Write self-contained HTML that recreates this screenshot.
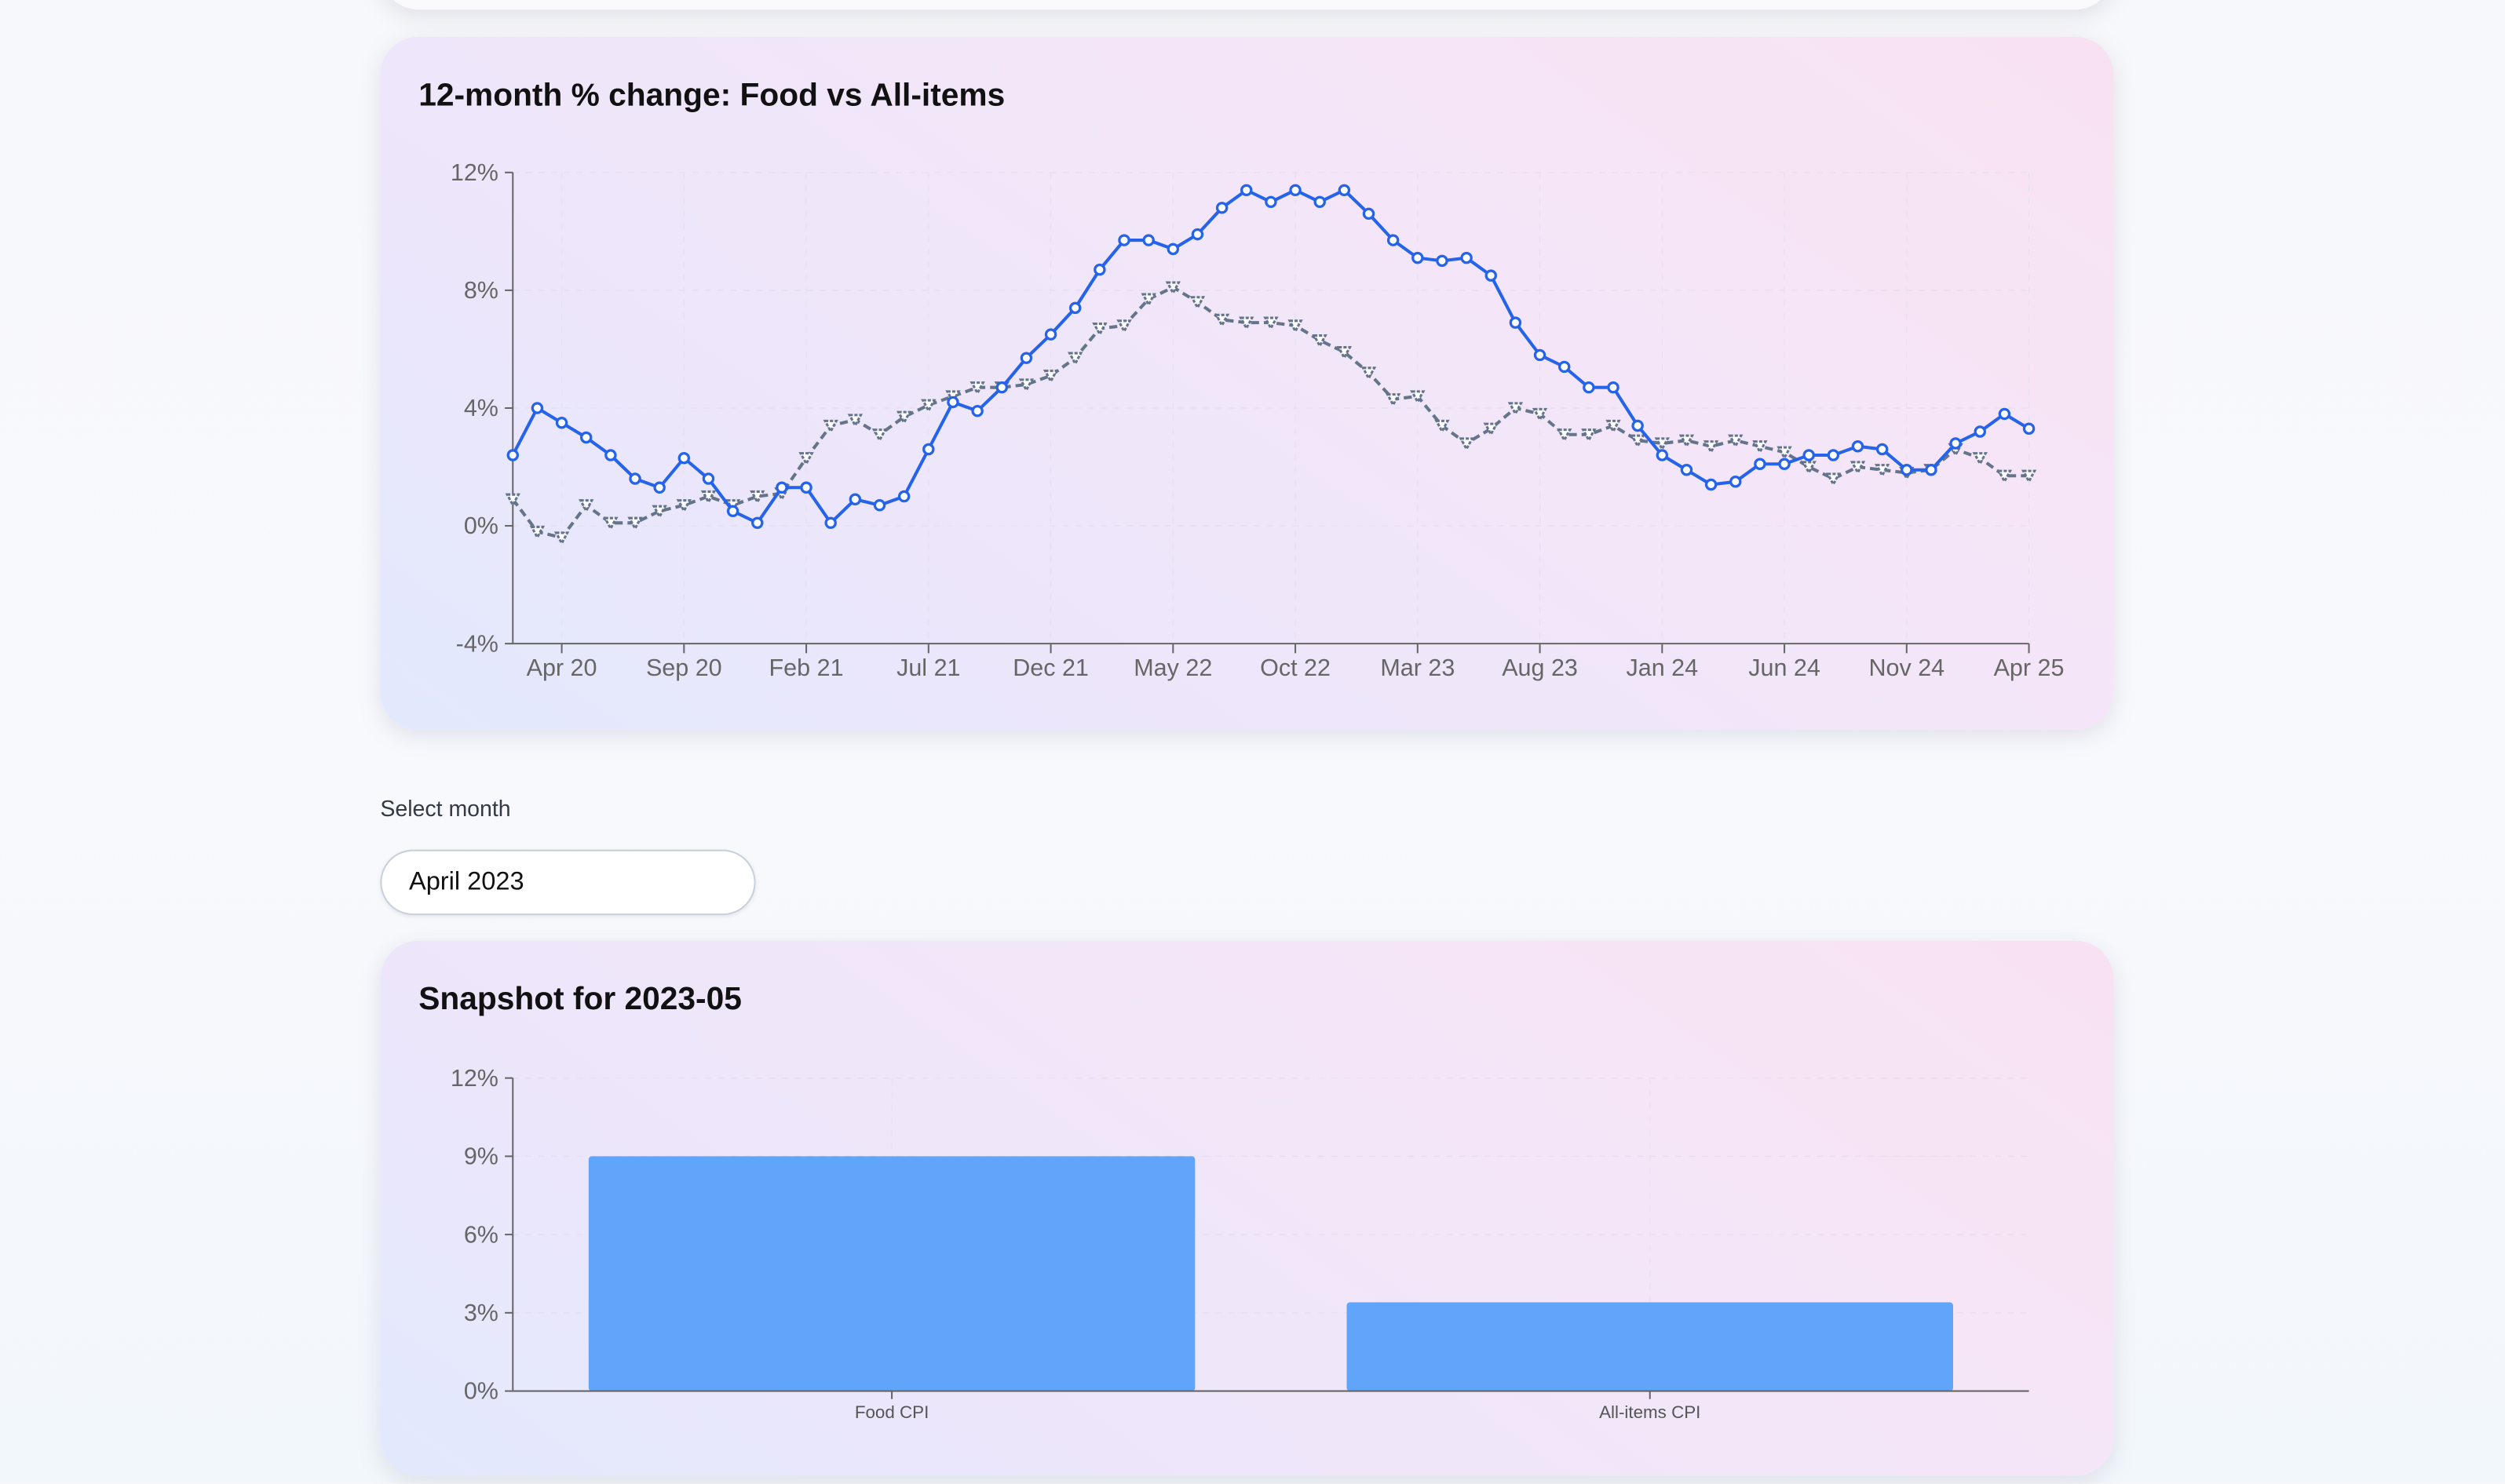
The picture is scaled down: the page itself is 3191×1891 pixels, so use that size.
<!DOCTYPE html>
<html><head><meta charset="utf-8">
<style>
html,body{margin:0;padding:0;width:3191px;height:1890px;overflow:hidden;}
body{background:linear-gradient(180deg,#f7f8fb 0%,#f8f9fd 50%,#f2f7fb 100%);font-family:"Liberation Sans",sans-serif;}
#wrap{position:absolute;left:0;top:0;width:1568px;height:929px;transform:scale(2.03508);transform-origin:0 0;}
.card{position:absolute;border-radius:24px;background:linear-gradient(35deg,#e2e9fd 0%,#ede6fb 30%,#f4e6f8 65%,#f8e2f1 100%);box-shadow:0 4px 14px rgba(120,120,150,0.18);}
.title{position:absolute;left:24px;font-weight:bold;font-size:20px;color:#111;}
#topcard{left:238px;top:-60px;width:1085px;height:66px;background:#fafafd;}
#label{position:absolute;left:238px;top:498px;font-size:14px;color:#333a45;}
#select{position:absolute;left:238px;top:532px;width:235px;height:41px;border:1px solid #c8d0dc;border-radius:21px;background:#fff;box-sizing:border-box;font-size:16px;color:#111;padding:11px 0 0 17px;box-shadow:0 1px 3px rgba(0,0,0,0.08);}
svg{position:absolute;left:0;top:0;}
</style></head>
<body>
<div id="wrap">
<div class="card" id="topcard"></div>
<div class="card" style="left:238px;top:23px;width:1085px;height:434px">
 <div class="title" style="top:26px">12-month % change: Food vs All-items</div>
</div>
<div id="label">Select month</div>
<div id="select">April 2023</div>
<div class="card" style="left:238px;top:589px;width:1085px;height:335px">
 <div class="title" style="top:26px">Snapshot for 2023-05</div>
</div>
<svg id="chart" width="1568" height="929"></svg>
</div>
<script>
const foodValues=[2.4,4.0,3.5,3.0,2.4,1.6,1.3,2.3,1.6,0.5,0.1,1.3,1.3,0.1,0.9,0.7,1.0,2.6,4.2,3.9,4.7,5.7,6.5,7.4,8.7,9.7,9.7,9.4,9.9,10.8,11.4,11.0,11.4,11.0,11.4,10.6,9.7,9.1,9.0,9.1,8.5,6.9,5.8,5.4,4.7,4.7,3.4,2.4,1.9,1.4,1.5,2.1,2.1,2.4,2.4,2.7,2.6,1.9,1.9,2.8,3.2,3.8,3.3];
const allItemsValues=[0.9,-0.2,-0.4,0.7,0.1,0.1,0.5,0.7,1.0,0.7,1.0,1.1,2.3,3.4,3.6,3.1,3.7,4.1,4.4,4.7,4.7,4.8,5.1,5.7,6.7,6.8,7.7,8.1,7.6,7.0,6.9,6.9,6.8,6.3,5.9,5.2,4.3,4.4,3.4,2.8,3.3,4.0,3.8,3.1,3.1,3.4,2.9,2.8,2.9,2.7,2.9,2.7,2.5,2.0,1.6,2.0,1.9,1.8,1.9,2.6,2.3,1.7,1.7];
const xTickLabels=["Apr 20","Sep 20","Feb 21","Jul 21","Dec 21","May 22","Oct 22","Mar 23","Aug 23","Jan 24","Jun 24","Nov 24","Apr 25"];
const xTickIndex=[2,7,12,17,22,27,32,37,42,47,52,57,62];
const yTicks=[-4,0,4,8,12];
const barCategories=["Food CPI","All-items CPI"];
const barValues=[9.0,3.4];
const barTicks=[0,3,6,9,12];

const NS="http://www.w3.org/2000/svg";
const svg=document.getElementById('chart');
function mk(tag,attrs,parent){const e=document.createElementNS(NS,tag);for(const k in attrs)e.setAttribute(k,attrs[k]);(parent||svg).appendChild(e);return e;}
const GRID='#e4dfee';
const X0=321,X1=1270,Y0=403,Y1=108;
const n=foodValues.length;
function xs(i){return X0+(X1-X0)*i/(n-1);}
function ys(v){return Y0-(v+4)/16*(Y0-Y1);}
const g=mk('g',{});


yTicks.forEach(t=>{
 const y=ys(t);
 const gl=mk('line',{x1:X0,x2:X1,y1:y,y2:y,stroke:GRID,'stroke-dasharray':'4 4','stroke-width':0.6},g);
 
 
 mk('line',{x1:X0-5,x2:X0,y1:y,y2:y,stroke:'#666'},g);
 const tx=mk('text',{x:X0-9,y:y+5,'text-anchor':'end','font-size':15,fill:'#666','font-family':'Liberation Sans, sans-serif'},g);
 tx.textContent=t+'%';
 
 
});
xTickIndex.forEach((idx,k)=>{
 const x=xs(idx);
 mk('line',{x1:x,x2:x,y1:Y1,y2:Y0,stroke:GRID,'stroke-dasharray':'4 4','stroke-width':0.5},g);
 mk('line',{x1:x,x2:x,y1:Y0,y2:Y0+6,stroke:'#666'},g);
 const tx=mk('text',{x:x,y:Y0+20,'text-anchor':'middle','font-size':15,fill:'#666','font-family':'Liberation Sans, sans-serif'},g);
 tx.textContent=xTickLabels[k];
 
 
});
mk('line',{x1:X0,x2:X0,y1:Y1,y2:Y0,stroke:'#666'},g);
mk('line',{x1:X0,x2:X1,y1:Y0,y2:Y0,stroke:'#666'},g);
const pa=mk('path',{d:allItemsValues.map((v,i)=>(i?'L':'M')+xs(i)+' '+ys(v)).join(''),fill:'none',stroke:'#64748b','stroke-width':2,'stroke-dasharray':'5 3'},g);


allItemsValues.forEach((v,i)=>{
 const x=xs(i),y=ys(v);
 const m=mk('path',{d:`M${x-3.5} ${y-3}L${x+3.5} ${y-3}L${x} ${y+3.5}Z`,fill:'#fff',stroke:'#64748b','stroke-width':1.5,'stroke-dasharray':'2 1'},g);
 
 
});
const pf=mk('path',{d:foodValues.map((v,i)=>(i?'L':'M')+xs(i)+' '+ys(v)).join(''),fill:'none',stroke:'#2563eb','stroke-width':2},g);


foodValues.forEach((v,i)=>{
 const c=mk('circle',{cx:xs(i),cy:ys(v),r:3,fill:'#fff',stroke:'#2563eb','stroke-width':1.6},g);
 
 
});
const BX0=321,BX1=1270,BY0=871,BY1=675;
function bys(v){return BY0-v/12*(BY0-BY1);}
const bg=mk('g',{});


barTicks.forEach(t=>{
 const y=bys(t);
 mk('line',{x1:BX0,x2:BX1,y1:y,y2:y,stroke:GRID,'stroke-dasharray':'4 4','stroke-width':0.6},bg);
 mk('line',{x1:BX0-5,x2:BX0,y1:y,y2:y,stroke:'#666'},bg);
 const tx=mk('text',{x:BX0-9,y:y+5,'text-anchor':'end','font-size':15,fill:'#666','font-family':'Liberation Sans, sans-serif'},bg);
 tx.textContent=t+'%';
 
 
});
const band=(BX1-BX0)/barCategories.length;
barCategories.forEach((c,i)=>{
 const cx=BX0+band*(i+0.5);
 const w=band*0.8;
 mk('line',{x1:cx,x2:cx,y1:BY1,y2:BY0,stroke:GRID,'stroke-dasharray':'4 4','stroke-width':0.5},bg);
 const r=mk('rect',{x:cx-w/2,y:bys(barValues[i]),width:w,height:BY0-bys(barValues[i]),fill:'#60a5fa',rx:2},bg);
 
 
 mk('line',{x1:cx,x2:cx,y1:BY0,y2:BY0+5,stroke:'#666'},bg);
 const tx=mk('text',{x:cx,y:BY0+17,'text-anchor':'middle','font-size':11,fill:'#555','font-family':'Liberation Sans, sans-serif'},bg);
 tx.textContent=c;
 
 
});
mk('line',{x1:BX0,x2:BX0,y1:BY1,y2:BY0,stroke:'#666'},bg);
mk('line',{x1:BX0,x2:BX1,y1:BY0,y2:BY0,stroke:'#666'},bg);
</script>
</body></html>
